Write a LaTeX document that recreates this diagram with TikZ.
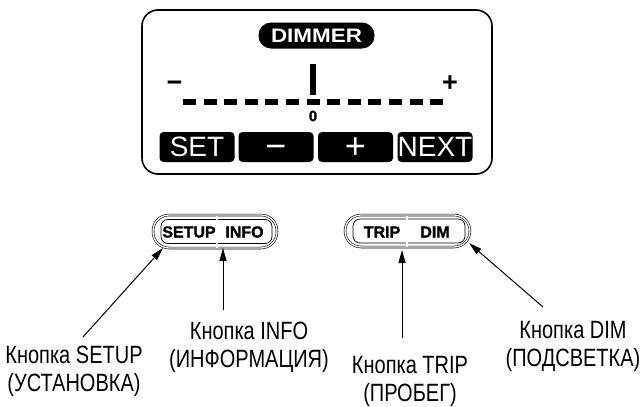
\documentclass[tikz,border=0pt]{standalone}
\usepackage{fontspec}
\setmainfont{Liberation Sans}
\newfontfamily\narrowfont{Liberation Sans}[FakeStretch=0.8]
\newfontfamily\widefont{Liberation Sans}[FakeStretch=1.15]
\newfontfamily\heavyfont{Liberation Sans}[FakeBold=1.5]
\usetikzlibrary{arrows.meta}
\tikzset{
  lcdkey/.style={fill=black, rounded corners=4pt, minimum width=75pt, minimum height=30pt, inner sep=0pt, text=white, font=\fontsize{28}{28}\selectfont},
  signkey/.style={lcdkey, font=\fontsize{36}{36}\selectfont, text height=23pt, text depth=0pt},
  pill/.style={draw, double, double distance=1.3pt, line width=0.6pt, inner sep=0pt},
  pillin/.style={draw, line width=0.7pt, rounded corners=7pt, inner sep=0pt},
  keytext/.style={font=\heavyfont\bfseries\fontsize{16}{16}\selectfont, inner sep=0pt},
  caption/.style={align=center, inner sep=0pt, font=\narrowfont\fontsize{25}{28}\selectfont},
  arr/.style={line width=1pt, -{Triangle[length=13pt,width=7pt]}},
  sign/.style={inner sep=0pt, font=\fontsize{27}{27}\selectfont\bfseries, text height=17.3pt, text depth=0pt}
}
\begin{document}
\begin{tikzpicture}[x=1pt,y=-1pt]
\useasboundingbox (0,0) rectangle (643,407);
% display
\node[draw, line width=1.6pt, rounded corners=16pt, minimum width=350pt, minimum height=164pt, inner sep=0pt] (display) at (317,92) {};
\node[fill=black, rounded corners=12.5pt, minimum width=116pt, minimum height=26pt, inner sep=0pt, text=white, font=\widefont\bfseries\fontsize{19.5}{19.5}\selectfont] (dimmer) at (316.5,35.5) {DIMMER};
\fill (310,64) rectangle (316,95);
\foreach \i in {-6,...,6} \fill ({313+\i*20.6-6.5},98.5) rectangle ({313+\i*20.6+6.5},104.5);
\node[inner sep=0pt, font=\heavyfont\bfseries\fontsize{15}{15}\selectfont] (zero) at (313,116) {0};
\node[sign] (lo) at (174.5,83) {−};
\node[sign] (hi) at (450,83) {+};
\node[lcdkey] (set) at (197,147) {SET};
\node[signkey] (minus) at (276,147) {−};
\node[signkey] (plus) at (355.5,147) {+};
\node[lcdkey] (next) at (435,147) {NEXT};
% SETUP / INFO key
\node[pill, rounded corners=16pt, minimum width=124pt, minimum height=33pt] (sipill) at (215,231.5) {};
\node[pillin, minimum width=111pt, minimum height=24pt] (siin) at (216.5,231.5) {};
\draw[double, double distance=1.3pt, line width=0.6pt] (217,215.5) -- (217,247.5);
\node[keytext] (setupk) at (189,232) {SETUP};
\node[keytext] (infok) at (244.5,232) {INFO};
% TRIP / DIM key
\node[pill, rounded corners=16pt, minimum width=125pt, minimum height=32pt] (tdpill) at (407.5,231) {};
\node[pillin, minimum width=112pt, minimum height=24pt] (tdin) at (409,231) {};
\draw[double, double distance=1.3pt, line width=0.6pt] (407,215.5) -- (407,246.5);
\node[keytext] (tripk) at (382,232) {TRIP};
\node[keytext] (dimk) at (435,232) {DIM};
% captions
\node[caption] (csetup) at (74,371) {Кнопка SETUP\\(УСТАНОВКА)};
\node[caption] (cinfo) at (249,347) {Кнопка INFO\\(ИНФОРМАЦИЯ)};
\node[caption] (ctrip) at (410,381.5) {Кнопка TRIP\\(ПРОБЕГ)};
\node[caption] (cdim) at (573,346) {Кнопка DIM\\(ПОДСВЕТКА)};
% arrows
\coordinate (setupfoot) at (83,337);
\coordinate (setuptip) at (163,248);
\coordinate (infofoot) at (223,310);
\coordinate (infotip) at (223,248);
\coordinate (tripfoot) at (402,338);
\coordinate (triptip) at (402,250);
\coordinate (dimfoot) at (543,307);
\coordinate (dimtip) at (469,243);
\draw[arr] (setupfoot) -- (setuptip);
\draw[arr] (infofoot) -- (infotip);
\draw[arr] (tripfoot) -- (triptip);
\draw[arr] (dimfoot) -- (dimtip);
\end{tikzpicture}
\end{document}
